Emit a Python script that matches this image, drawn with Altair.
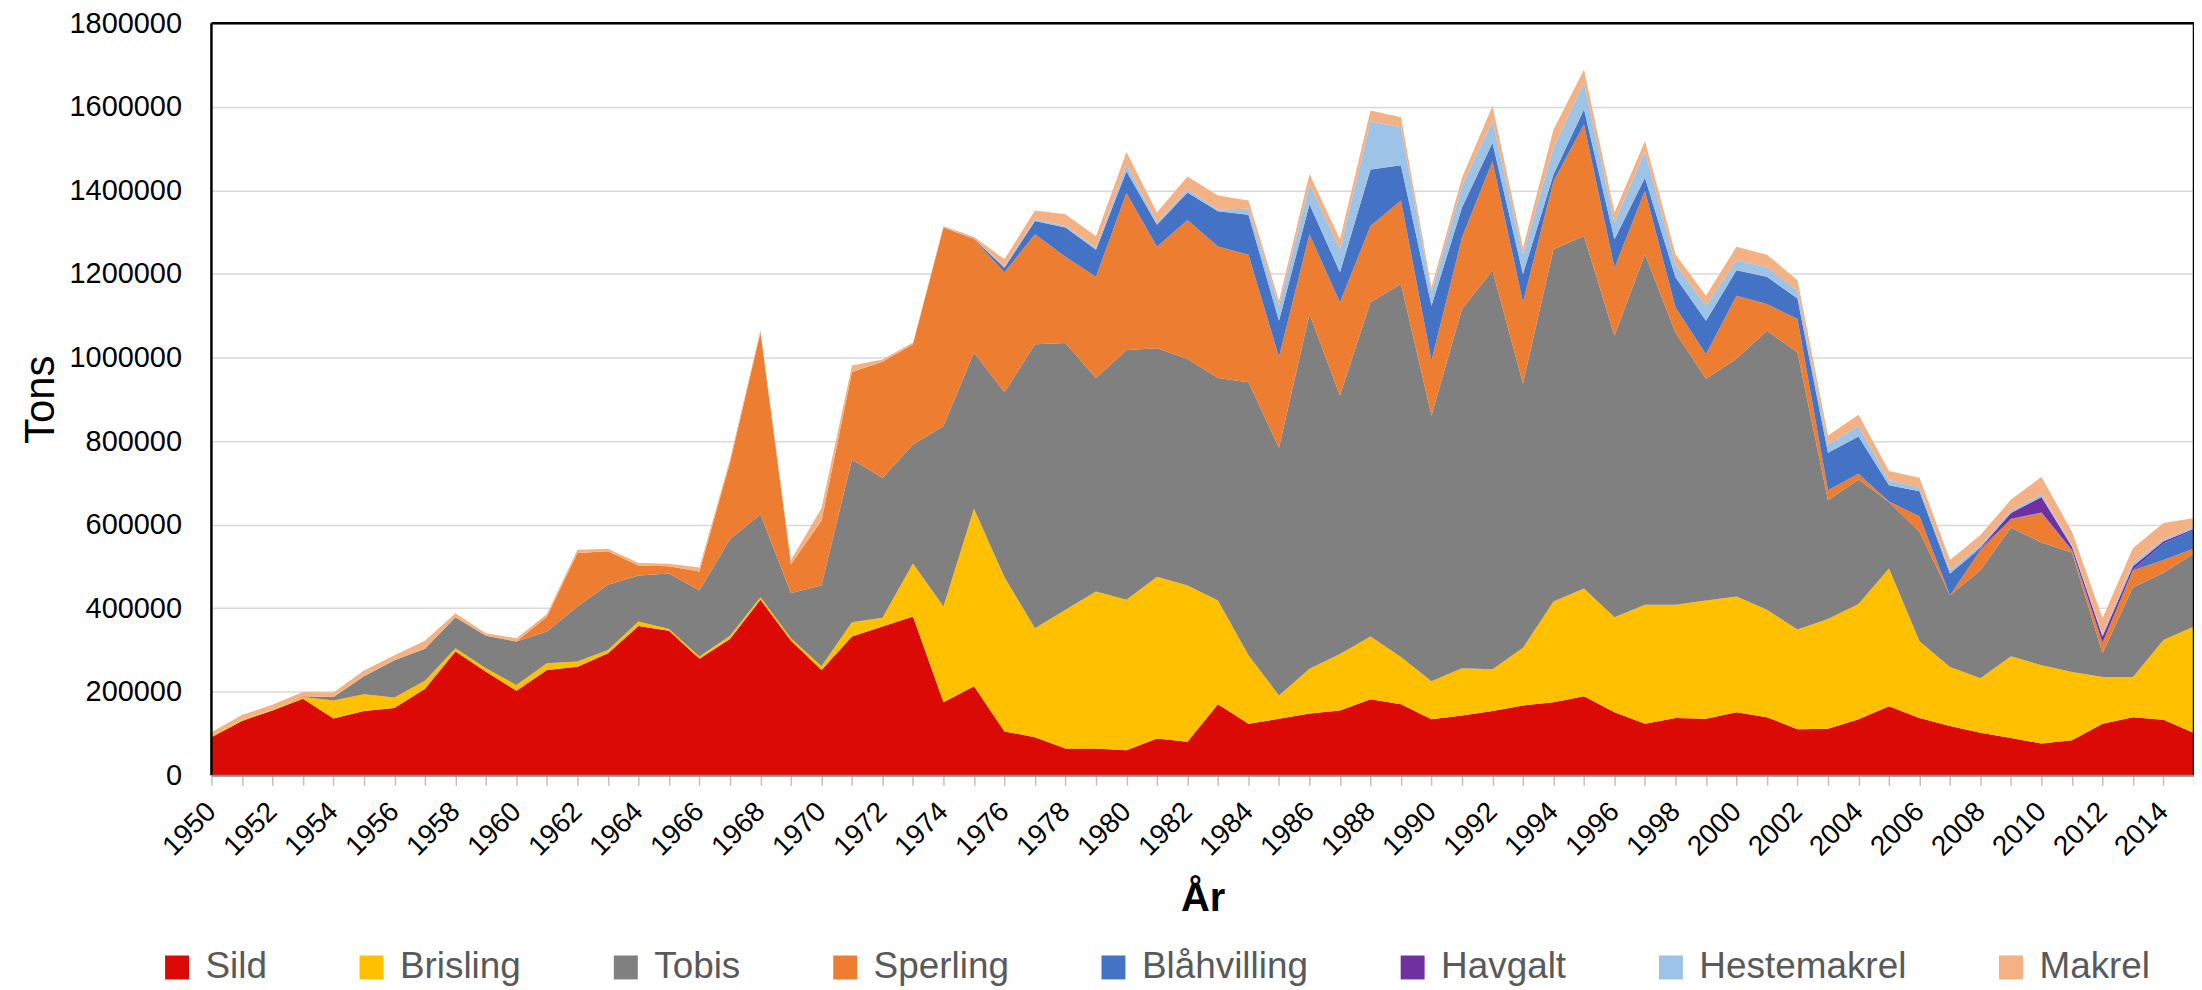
import altair as alt
import pandas as pd

years = list(range(1950, 2016))
series = ["Sild", "Brisling", "Tobis", "Sperling", "Blåhvilling", "Havgalt", "Hestemakrel", "Makrel"]
colors = ["#DC0A05", "#FFC000", "#808080", "#ED7D31", "#4472C4", "#7030A0", "#9DC3E6", "#F4B183"]

sild = [91000, 130000, 155000, 183000, 136000, 154000, 161000, 207000, 296000, 248000,
        202000, 252000, 260000, 292000, 357000, 346000, 279000, 326000, 420000, 322000,
        252000, 332000, 356000, 380000, 175000, 213000, 105000, 91000, 64000, 64000,
        60000, 88000, 80000, 170000, 123000, 135000, 148000, 155000, 182000, 170000,
        134000, 143000, 154000, 167000, 175000, 189000, 151000, 123000, 137000, 135000,
        151000, 139000, 110000, 111000, 134000, 165000, 137000, 118000, 102000, 89000,
        76000, 84000, 123000, 139000, 133000, 101000]

brisling = [4000, 3000, 2000, 4000, 43000, 40000, 25000, 19000, 8000, 8000,
            14000, 16000, 12000, 8000, 11000, 4000, 5000, 8000, 6000, 6000,
            9000, 34000, 21000, 127000, 229000, 425000, 369000, 261000, 332000, 376000,
            360000, 387000, 374000, 248000, 164000, 56000, 107000, 135000, 150000, 113000,
            91000, 113000, 100000, 138000, 241000, 258000, 227000, 285000, 271000, 283000,
            277000, 257000, 239000, 263000, 276000, 330000, 184000, 141000, 130000, 196000,
            187000, 163000, 112000, 96000, 191000, 255000]

tobis = [0, 0, 0, 2000, 8000, 43000, 89000, 77000, 74000, 78000,
         104000, 76000, 132000, 156000, 110000, 133000, 158000, 231000, 199000, 108000,
         193000, 390000, 335000, 285000, 432000, 374000, 443000, 680000, 639000, 511000,
         598000, 547000, 543000, 533000, 654000, 593000, 849000, 619000, 800000, 893000,
         636000, 860000, 954000, 633000, 843000, 844000, 674000, 839000, 652000, 531000,
         569000, 668000, 663000, 284000, 298000, 159000, 262000, 172000, 259000, 308000,
         294000, 286000, 57000, 215000, 161000, 175000]

sperling = [0, 0, 0, 0, 0, 0, 0, 0, 0, 0,
            0, 36000, 128000, 80000, 24000, 17000, 46000, 183000, 435000, 69000,
            155000, 209000, 278000, 240000, 475000, 271000, 287000, 263000, 206000, 242000,
            376000, 243000, 332000, 315000, 305000, 217000, 191000, 223000, 183000, 200000,
            132000, 171000, 262000, 194000, 163000, 267000, 163000, 152000, 60000, 59000,
            151000, 64000, 80000, 24000, 14000, 1000, 37000, 0, 48000, 19000,
            71000, 4000, 24000, 40000, 30000, 12000]

blaahvilling = [0, 0, 0, 0, 0, 0, 0, 0, 0, 0,
                0, 0, 0, 0, 0, 0, 0, 0, 0, 0,
                0, 0, 0, 0, 0, 1000, 11000, 32000, 70000, 65000,
                52000, 53000, 66000, 84000, 96000, 87000, 72000, 72000, 135000, 84000,
                131000, 72000, 44000, 68000, 16000, 36000, 68000, 31000, 72000, 80000,
                61000, 65000, 49000, 90000, 89000, 39000, 60000, 52000, 4000, 2000,
                1000, 2000, 2000, 2000, 40000, 44000]

havgalt = [0, 0, 0, 0, 0, 0, 0, 0, 0, 0,
           0, 0, 0, 0, 0, 0, 0, 0, 0, 0,
           0, 0, 0, 0, 0, 0, 0, 0, 0, 0,
           0, 0, 0, 0, 0, 0, 0, 0, 0, 0,
           0, 0, 0, 0, 0, 0, 0, 0, 0, 0,
           0, 0, 0, 0, 0, 0, 0, 0, 2000, 14000,
           37000, 8000, 14000, 8000, 5000, 3000]

hestemakrel = [0, 0, 0, 0, 0, 0, 0, 0, 0, 0,
               0, 0, 0, 0, 0, 0, 0, 0, 0, 0,
               0, 0, 0, 0, 0, 0, 3000, 4000, 4000, 5000,
               16000, 5000, 8000, 4000, 14000, 36000, 48000, 56000, 115000, 91000,
               32000, 52000, 52000, 47000, 64000, 63000, 40000, 64000, 31000, 36000,
               24000, 23000, 19000, 20000, 25000, 12000, 8000, 8000, 6000, 6000,
               7000, 4000, 6000, 9000, 5000, 5000]

makrel = [8000, 11000, 12000, 10000, 11000, 14000, 12000, 19000, 10000, 6000,
          8000, 6000, 8000, 6000, 6000, 6000, 9000, 8000, 6000, 10000,
          30000, 16000, 5000, 4000, 3000, 5000, 17000, 21000, 28000, 27000,
          30000, 24000, 30000, 34000, 20000, 12000, 24000, 23000, 26000, 24000,
          12000, 19000, 36000, 16000, 44000, 32000, 24000, 24000, 24000, 24000,
          32000, 30000, 25000, 21000, 27000, 22000, 24000, 24000, 24000, 26000,
          41000, 32000, 38000, 35000, 39000, 21000]

y_ticks = [0, 200000, 400000, 600000, 800000, 1000000, 1200000, 1400000, 1600000, 1800000]

values_by_series = [sild, brisling, tobis, sperling, blaahvilling, havgalt, hestemakrel, makrel]
rows = []
for idx, (name, vals) in enumerate(zip(series, values_by_series)):
    for yr, v in zip(years, vals):
        rows.append({"year": yr, "tons": v, "art": name, "idx": idx})
df = pd.DataFrame(rows)

W, H = 1988, 754
FONT = "Liberation Sans"

areas = alt.Chart(df).mark_area(interpolate="linear", opacity=1).encode(
    x=alt.X("year:Q",
            scale=alt.Scale(domain=[1950, 2015], nice=False, zero=False),
            axis=alt.Axis(values=years, format="d",
                          labelExpr="datum.value % 2 == 0 ? datum.label : ''",
                          labelAngle=-45, labelAlign="right", labelBaseline="middle",
                          labelFontSize=28, labelFont=FONT, labelColor="#000000",
                          labelPadding=22, labelOverlap=False, labelFlush=False,
                          tickSize=10, tickColor="#bfbfbf", tickWidth=1.5,
                          domainColor="#8c8c8c", domainWidth=2, grid=False,
                          titleFontSize=40, titleFont=FONT, titleFontWeight="bold",
                          titleColor="#000000", titlePadding=18, zindex=1),
            title="År"),
    y=alt.Y("tons:Q", stack="zero",
            scale=alt.Scale(domain=[0, 1800000], nice=False),
            axis=alt.Axis(values=y_ticks, format="d", labelFontSize=29, labelFont=FONT,
                          labelColor="#000000", labelPadding=30, ticks=False,
                          domain=False, labelFlush=False,
                          grid=True, gridColor="#d9d9d9", gridWidth=1.5,
                          titleFontSize=42, titleFont=FONT, titleFontWeight="normal",
                          titleColor="#000000", titlePadding=6),
            title="Tons"),
    color=alt.Color("art:N", sort=series,
                    scale=alt.Scale(domain=series, range=colors),
                    legend=alt.Legend(orient="none", legendX=-53, legendY=928,
                                      direction="horizontal", columns=8, columnPadding=86,
                                      symbolType="square", symbolSize=576,
                                      symbolStrokeWidth=0, symbolOpacity=1,
                                      labelFontSize=37, labelFont=FONT, labelColor="#595959",
                                      labelOffset=10, labelLimit=500, title=None)),
    order=alt.Order("idx:Q", sort="ascending"),
)

frame_df = pd.DataFrame({"k": [0]})
frame = alt.Chart(frame_df).mark_rule(color="#000000", strokeWidth=2.5)
top_line = frame.encode(x=alt.value(0), x2=alt.value(W), y=alt.value(0))
left_line = frame.encode(x=alt.value(0), y=alt.value(0), y2=alt.value(H))
right_line = frame.encode(x=alt.value(W), y=alt.value(0), y2=alt.value(H))

chart = alt.layer(areas, top_line, left_line, right_line).properties(
    width=W, height=H,
    autosize=alt.AutoSizeParams(type="none"),
    padding={"left": 204, "top": 14, "right": 0, "bottom": 212},
).configure_view(strokeWidth=0)

chart.save("out.html", embed_options={"renderer": "svg", "actions": False})
